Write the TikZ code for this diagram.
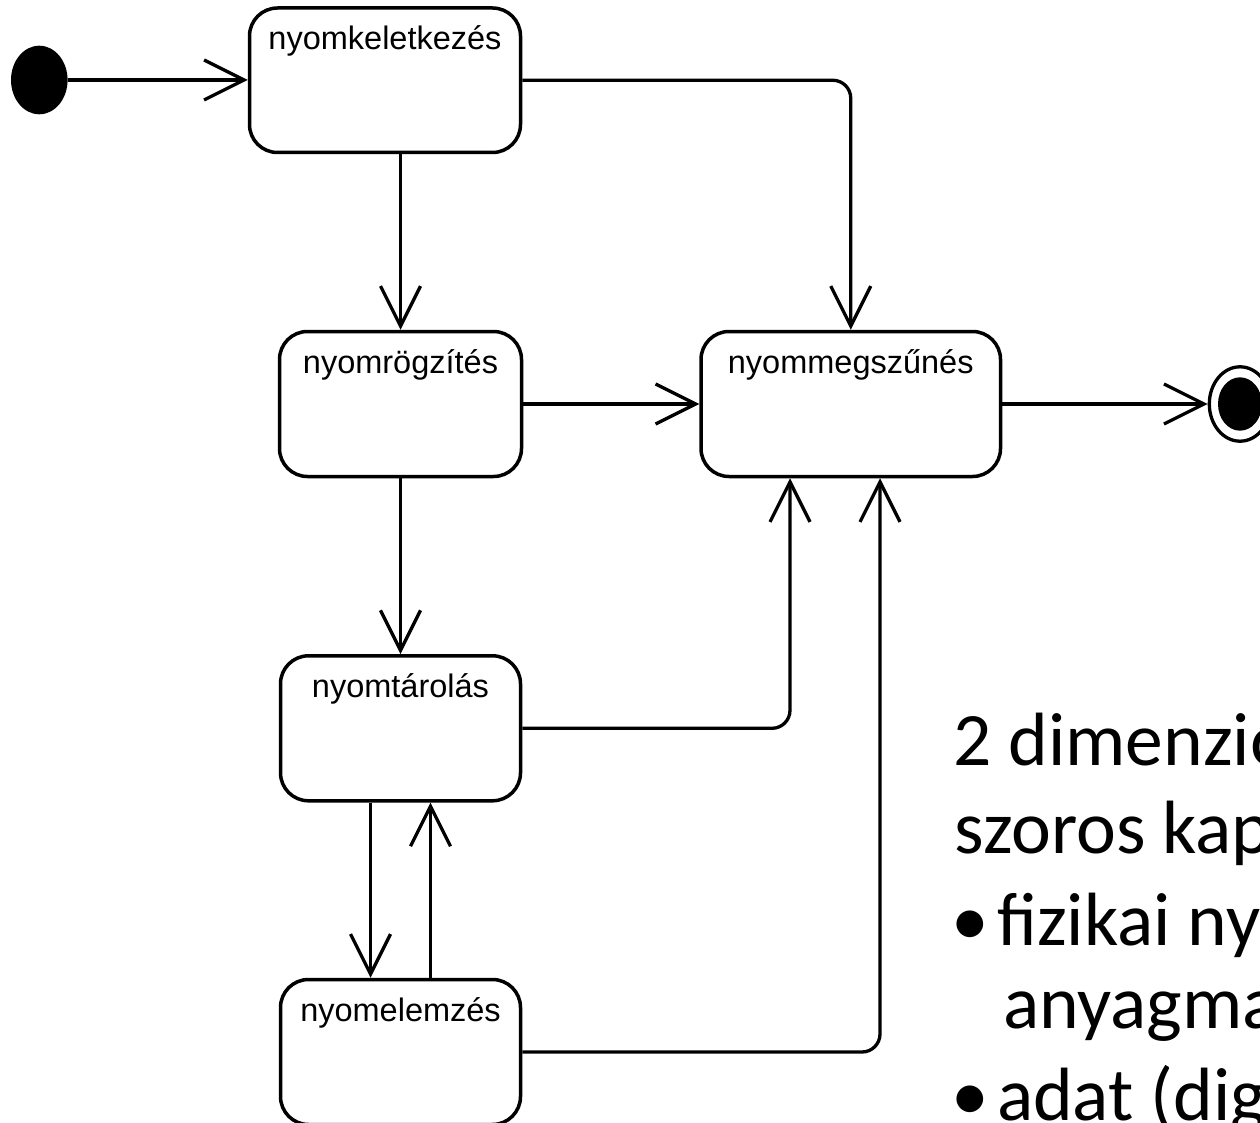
\documentclass[tikz,border=0pt]{standalone}
\usepackage{fontspec}
\setmainfont{Liberation Sans}
\newfontfamily\calib{Carlito}
\usetikzlibrary{arrows.meta,shapes.geometric}
\begin{document}
\begin{tikzpicture}[x=1pt,y=-1pt,
  stbox/.style={draw, line width=3.5pt, rounded corners=28pt, minimum width=#1,
    minimum height=145pt, inner sep=0pt},
  lbl/.style={anchor=base, yshift=-43.5pt, inner sep=0pt,
    font=\fontsize{32.5}{39}\selectfont},
  conn/.style={line width=3.3pt, -{Straight Barb[length=40pt,width=40pt]}},
  txt/.style={anchor=base west, inner sep=0pt, font=\calib\fontsize{75.5}{90}\selectfont}]
\useasboundingbox (0,0) rectangle (1260,1123);
\clip (0,0) rectangle (1260,1123);

% initial and final states
\node[ellipse, fill=black, draw=none, inner sep=0pt,
      minimum width=56.6pt, minimum height=68.6pt] (init) at (39.3,80) {};
\node[ellipse, draw, line width=3.3pt, fill=white, inner sep=0pt,
      minimum width=61.4pt, minimum height=74.4pt] (final) at (1240,404) {};
\node[ellipse, fill=black, draw=none, inner sep=0pt,
      minimum width=44pt, minimum height=53.4pt] (finalin) at (final.center) {};

% states
\node[stbox=271pt, minimum height=144.5pt, label={[lbl]north:nyomkeletkezés}] (B1) at (385,80.25) {};
\node[stbox=242pt, label={[lbl]north:nyomrögzítés}] (B2) at (400.5,404) {};
\node[stbox=240pt, label={[lbl]north:nyomtárolás}] (B3) at (400.5,728.3) {};
\node[stbox=240pt, label={[lbl]north:nyomelemzés}] (B4) at (400.5,1052) {};
\node[stbox=299.5pt, label={[lbl]north:nyommegszűnés}] (B5) at (850.75,404) {};

% transitions
\draw[conn] (init) -- (B1.west |- init);
\draw[conn] (B1.south -| B2.north) -- (B2.north);
\draw[conn, rounded corners=18pt] (B1.east) -| (B5.north);
\draw[conn] (B2.east) -- (B5.west);
\draw[conn] (B2.south) -- (B3.north);
\draw[conn, rounded corners=18pt] (B3.east) -| ([xshift=-60.75pt]B5.south);
\draw[conn, rounded corners=18pt] (B4.east) -| ([xshift=29.25pt]B5.south);
\draw[conn] ([xshift=-30pt]B3.south) -- ([xshift=-30pt]B4.north);
\draw[conn] ([xshift=30pt]B4.north) -- ([xshift=30pt]B3.south);
\draw[conn] (B5.east) -- (final);

% side text (cut off by the right edge, as in the reference)
\node[txt] (t1) at (953,765) {2 dimenzió};
\node[txt] (t2) at (954,853) {szoros kap};
\node[txt] (t3) at (951,945) {\makebox[46pt][l]{•}fizikai ny};
\node[txt] (t4) at (1003,1028) {anyagma};
\node[txt] (t5) at (951,1120) {\makebox[46pt][l]{•}adat (dig};
\end{tikzpicture}
\end{document}
